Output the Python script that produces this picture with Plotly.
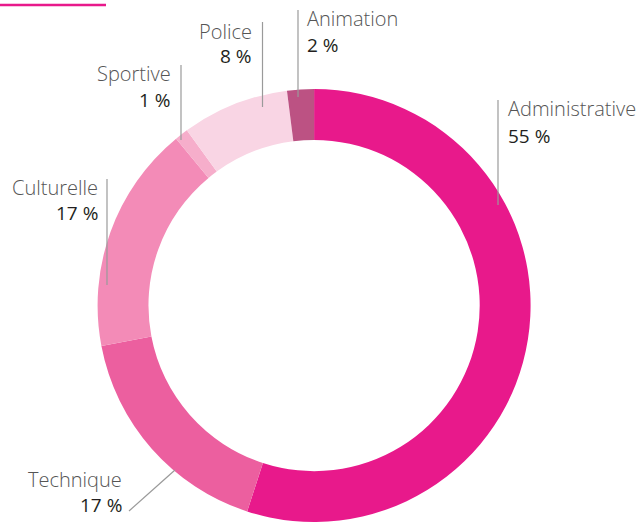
import plotly.graph_objects as go

# chart data
categories = ["Administrative", "Technique", "Culturelle", "Sportive", "Police", "Animation"]
shares = [55, 17, 17, 1, 8, 2]
pct_labels = ["55 %", "17 %", "17 %", "1 %", "8 %", "2 %"]
colors = ["#E8198B", "#EC5F9F", "#F38BB7", "#F6AECB", "#F9D5E4", "#BC5283"]

W, H = 641, 522


def px(x):
    return x / W


def py(y):
    return 1 - y / H


# label placement in pixels: (text x, anchor, name y, pct y, line x0, y0, x1, y1)
label_pos = {
    "Administrative": (506, "left", 109, 136, 498, 100, 498, 205),
    "Technique": (124, "right", 479, 505, 129, 511, 175, 470),
    "Culturelle": (100, "right", 188, 213, 107, 179, 107, 285),
    "Sportive": (173, "right", 74, 100, 181, 65, 181, 140),
    "Police": (254, "right", 31, 56, 262.5, 22, 262.5, 107),
    "Animation": (305, "left", 19, 45, 298, 10, 298, 97),
}

fig = go.Figure()

fig.add_trace(go.Pie(
    labels=categories,
    values=shares,
    marker=dict(colors=colors, line=dict(width=0)),
    hole=0.765,
    sort=False,
    direction="clockwise",
    rotation=0,
    textinfo="none",
    hoverinfo="label+percent",
    showlegend=False,
    domain=dict(x=[0.1, 0.88], y=[0, 0.8295]),
))

annotations = []
shapes = []
for cat, pct in zip(categories, pct_labels):
    tx, anchor, ny, pyy, x0, y0, x1, y1 = label_pos[cat]
    annotations.append(dict(
        x=px(tx), y=py(ny), xref="paper", yref="paper",
        text=cat, showarrow=False, xanchor=anchor, yanchor="middle",
        font=dict(family="Open Sans", size=20, color="#555555", weight=300),
    ))
    annotations.append(dict(
        x=px(tx), y=py(pyy), xref="paper", yref="paper",
        text=pct, showarrow=False, xanchor=anchor, yanchor="middle",
        font=dict(family="Open Sans", size=19, color="#231F20", weight=500),
    ))
    shapes.append(dict(
        type="line", xref="paper", yref="paper",
        x0=px(x0), y0=py(y0), x1=px(x1), y1=py(y1),
        line=dict(color="#9A9A9A", width=1.2),
    ))

# magenta rule at the top left
shapes.append(dict(
    type="line", xref="paper", yref="paper",
    x0=0, y0=py(5), x1=px(106), y1=py(5),
    line=dict(color="#E8198B", width=2.5),
))

fig.update_layout(
    width=W, height=H,
    margin=dict(l=0, r=0, t=0, b=0),
    paper_bgcolor="white",
    plot_bgcolor="white",
    annotations=annotations,
    shapes=shapes,
)

fig.write_html("out.html", config={"displayModeBar": False},
               post_script="document.body.style.margin='0';")
